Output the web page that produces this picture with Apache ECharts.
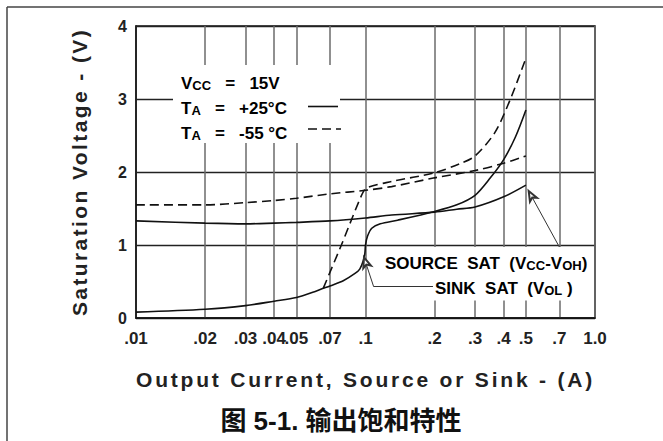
<!DOCTYPE html>
<html><head><meta charset="utf-8">
<script src="https://cdn.jsdelivr.net/npm/echarts@6/dist/echarts.min.js"></script>
<style>html,body{margin:0;padding:0;background:#fff}#c{width:663px;height:441px}</style>
</head><body><div id="c"></div>
<script>
// ---- data ----
const xTickValues = [0.01, 0.02, 0.03, 0.04, 0.05, 0.07, 0.1, 0.2, 0.3, 0.4, 0.5, 0.7, 1.0];
const xTickLabels = ['.01', '.02', '.03', '.04', '.05', '.07', '.1', '.2', '.3', '.4', '.5', '.7', '1.0'];
const yTickLabels = ['0', '1', '2', '3', '4'];

// Sink saturation (VOL), TA = +25 C (solid)
const sink25I = [0.01, 0.02, 0.03, 0.04, 0.05, 0.06, 0.07, 0.08, 0.09, 0.0944, 0.0977, 0.0994, 0.1, 0.102, 0.1065, 0.116, 0.138, 0.2, 0.25, 0.3, 0.35, 0.4, 0.45, 0.5];
const sink25V = [0.08, 0.12, 0.17, 0.23, 0.28, 0.36, 0.44, 0.51, 0.61, 0.67, 0.78, 0.89, 1.00, 1.12, 1.23, 1.29, 1.34, 1.46, 1.55, 1.68, 1.92, 2.17, 2.48, 2.85];
// Source saturation (VCC-VOH), TA = +25 C (solid)
const source25I = [0.01, 0.02, 0.03, 0.04, 0.05, 0.07, 0.1, 0.13, 0.2, 0.25, 0.3, 0.4, 0.5];
const source25V = [1.33, 1.30, 1.29, 1.30, 1.31, 1.33, 1.37, 1.41, 1.45, 1.49, 1.52, 1.66, 1.82];
// Source saturation, TA = -55 C (dashed)
const sourceM55I = [0.01, 0.02, 0.03, 0.04, 0.05, 0.07, 0.1, 0.13, 0.2, 0.3, 0.4, 0.5];
const sourceM55V = [1.55, 1.55, 1.58, 1.61, 1.64, 1.70, 1.75, 1.80, 1.92, 2.02, 2.12, 2.22];
// Sink saturation, TA = -55 C (dashed)
const sinkM55I = [0.0655, 0.0785, 0.0961, 0.101, 0.13, 0.2, 0.261, 0.3, 0.366, 0.428, 0.5];
const sinkM55V = [0.41, 1.00, 1.68, 1.78, 1.87, 1.99, 2.12, 2.22, 2.54, 3.00, 3.56];

const xName = 'Output Current, Source or Sink - (A)';
const yName = 'Saturation Voltage - (V)';
const caption = '图 5-1. 输出饱和特性';

// ---- build ----
const FONT = '"Liberation Sans", Arial, "Noto Sans CJK SC", sans-serif';
const INK = '#222';
function pairs(xs, vs) { return xs.map((x, i) => [x, vs[i]]); }
function xLabel(v) {
  const i = xTickValues.findIndex(t => Math.abs(t - v) <= t * 1e-6);
  return i >= 0 ? xTickLabels[i] : '';
}
const curveStyle = (dashed) => ({
  type: 'line', showSymbol: false, symbol: 'none', smooth: 0.3, silent: true,
  lineStyle: { color: '#111', width: 1.6, type: dashed ? [9, 5] : 'solid' }
});
const richB = { fontFamily: FONT, fontWeight: 'bold', fontSize: 17, color: INK, verticalAlign: 'bottom', lineHeight: 20 };
const richS = { fontFamily: FONT, fontWeight: 'bold', fontSize: 13, color: INK, verticalAlign: 'bottom', lineHeight: 20 };
const richB17 = Object.assign({}, richB, { fontSize: 17 });
const richS17 = Object.assign({}, richS, { fontSize: 13 });

const chart = echarts.init(document.getElementById('c'), null, { renderer: 'svg', width: 663, height: 441 });
const option = {
  animation: false,
  backgroundColor: '#fff',
  grid: { left: 136, right: 68, top: 26, bottom: 123, show: true, borderColor: '#111', borderWidth: 1.5, backgroundColor: 'transparent' },
  xAxis: {
    type: 'log', logBase: 10, min: 0.01, max: 1,
    axisLine: { show: true, lineStyle: { color: '#111', width: 1.5 } },
    axisTick: { show: false, customValues: xTickValues },
    axisLabel: { customValues: xTickValues, formatter: xLabel, fontFamily: FONT, fontWeight: 'bold', fontSize: 17, color: INK, margin: 12 },
    splitLine: { show: true, lineStyle: { color: '#6b6b6b', width: 1.5 } },
    minorTick: { show: false }, minorSplitLine: { show: false },
    name: xName, nameLocation: 'middle', nameGap: 51,
    nameTextStyle: { fontFamily: FONT, fontWeight: 'bold', fontSize: 21, color: INK }
  },
  yAxis: {
    type: 'value', min: 0, max: 4, interval: 1,
    axisLine: { show: true, lineStyle: { color: '#111', width: 1.5 } },
    axisTick: { show: false },
    axisLabel: { formatter: v => yTickLabels[Math.round(v)], fontFamily: FONT, fontWeight: 'bold', fontSize: 16, color: INK, margin: 9 },
    splitLine: { show: true, lineStyle: { color: '#222', width: 1.3 } },
    name: yName, nameLocation: 'middle', nameGap: 46,
    nameTextStyle: { fontFamily: FONT, fontWeight: 'bold', fontSize: 21, color: INK }
  },
  series: [
    Object.assign(curveStyle(false), { name: 'Sink +25', data: pairs(sink25I, sink25V),
      markLine: { silent: true, symbol: ['emptyArrow', 'none'], symbolSize: [6, 10], animation: false,
        label: { show: false }, lineStyle: { color: '#333', width: 1, type: 'solid' },
        data: [
          [{ coord: [0.0985, 0.83] }, { coord: [0.1085, 0.43] }],
          [{ coord: [0.1085, 0.43], symbol: 'none' }, { coord: [0.1968, 0.43] }]
        ] } }),
    Object.assign(curveStyle(false), { name: 'Source +25', data: pairs(source25I, source25V),
      markLine: { silent: true, symbol: ['emptyArrow', 'none'], symbolSize: [6, 10], animation: false,
        label: { show: false }, lineStyle: { color: '#333', width: 1, type: 'solid' },
        data: [[{ coord: [0.514, 1.74] }, { x: 561, y: 250 }]] } }),
    Object.assign(curveStyle(true), { name: 'Source -55', data: pairs(sourceM55I, sourceM55V) }),
    Object.assign(curveStyle(true), { name: 'Sink -55', data: pairs(sinkM55I, sinkM55V) })
  ],
  graphic: [
    { type: 'line', z: 60, silent: true, shape: { x1: 7, y1: 7, x2: 663, y2: 7 }, style: { stroke: '#444', lineWidth: 1.5 } },
    { type: 'line', z: 60, silent: true, shape: { x1: 7, y1: 7, x2: 7, y2: 441 }, style: { stroke: '#444', lineWidth: 1.5 } },
    // condition block
    { type: 'rect', z: 50, silent: true, shape: { x: 173, y: 65, width: 167, height: 78 }, style: { fill: '#fff' } },
    { type: 'text', z: 55, silent: true, x: 181, y: 82, style: { text: '{b|V}{s|CC}{b|   =   15V}', verticalAlign: 'middle', rich: { b: richB, s: richS } } },
    { type: 'text', z: 55, silent: true, x: 181, y: 107, style: { text: '{b|T}{s|A}{b|   =   +25°C}', verticalAlign: 'middle', rich: { b: richB, s: richS } } },
    { type: 'text', z: 55, silent: true, x: 181, y: 132, style: { text: '{b|T}{s|A}{b|   =   -55 °C}', verticalAlign: 'middle', rich: { b: richB, s: richS } } },
    { type: 'line', z: 55, silent: true, shape: { x1: 308, y1: 106.5, x2: 338, y2: 106.5 }, style: { stroke: '#111', lineWidth: 1.6 } },
    { type: 'line', z: 55, silent: true, shape: { x1: 308, y1: 129, x2: 341, y2: 129 }, style: { stroke: '#111', lineWidth: 1.6, lineDash: [9, 5] } },
    // curve annotations
    { type: 'text', z: 55, silent: true, x: 383, y: 261, style: { text: '{b|SOURCE  SAT  (V}{s|CC}{b|-V}{s|OH}{b|)}', verticalAlign: 'middle', backgroundColor: '#fff', padding: [5, 3, 3, 2], rich: { b: richB17, s: richS17 } } },
    { type: 'text', z: 55, silent: true, x: 433, y: 287, style: { text: '{b|SINK  SAT  (V}{s|OL}{b| )}', verticalAlign: 'middle', backgroundColor: '#fff', padding: [3, 3, 4, 2], rich: { b: richB17, s: richS17 } } },
    // caption
    { type: 'text', z: 55, silent: true, x: 341, y: 421, style: { text: caption, align: 'center', verticalAlign: 'middle', fontFamily: FONT, fontWeight: 'bold', fontSize: 26, fill: '#111' } }
  ]
};
chart.setOption(option);

function applySpacing() {
  document.querySelectorAll('#c svg text').forEach(t => {
    const s = t.textContent;
    if (s === xName) t.setAttribute('letter-spacing', '2.8');
    if (s === yName) t.setAttribute('letter-spacing', '2.4');
  });
}
applySpacing();
chart.on('finished', applySpacing);
setTimeout(applySpacing, 0);
</script>
</body></html>
